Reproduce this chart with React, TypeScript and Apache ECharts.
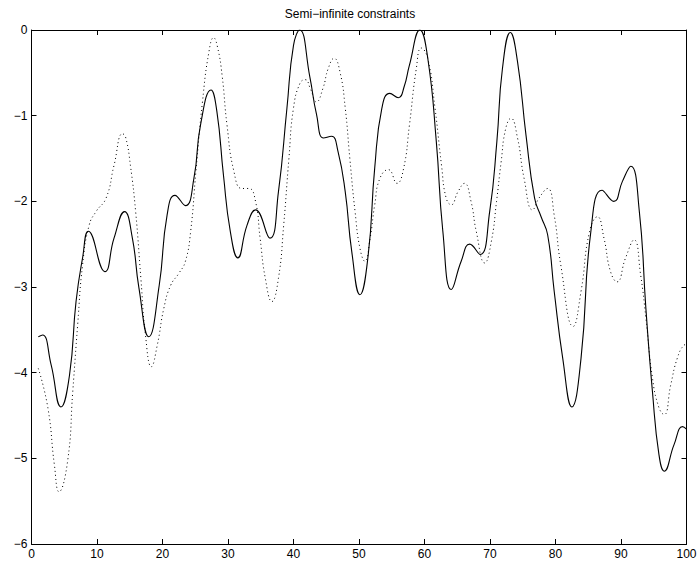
import React, { useEffect, useRef } from "react";
import * as echarts from "echarts";

const titleText = "Semi\u2212infinite constraints";
const xTicks = [0, 10, 20, 30, 40, 50, 60, 70, 80, 90, 100];
const yTicks = [0, -1, -2, -3, -4, -5, -6];

const solidX = [1.04, 1.7, 3.0, 4.5, 5.8, 6.8, 7.8, 8.7, 11.2, 12.6, 14.2, 15.4, 16.4, 17.9, 19.5, 20.7, 21.9, 23.5, 24.8, 25.8, 27.4, 28.3, 29.3, 30.35, 31.5, 32.9, 34.2, 36.4, 37.7, 39.0, 40.0, 40.95, 42.5, 43.5, 44.6, 45.8, 46.8, 47.9, 48.9, 50.15, 51.4, 52.4, 53.5, 54.7, 56.0, 56.9, 57.7, 59.3, 60.5, 61.8, 62.8, 64.1, 65.6, 66.9, 68.5, 69.95, 71.05, 71.9, 73.1, 74.2, 75.5, 76.8, 77.8, 78.8, 79.8, 81.1, 82.5, 83.9, 85.4, 87.1, 88.9, 90.2, 91.5, 92.8, 93.8, 94.8, 95.8, 96.6, 98.1, 99.4, 100];
const solidY = [-3.58, -3.56, -3.91, -4.40, -4.03, -3.17, -2.66, -2.35, -2.82, -2.43, -2.12, -2.43, -3.01, -3.58, -2.98, -2.16, -1.93, -2.05, -1.73, -1.11, -0.70, -0.95, -1.69, -2.35, -2.66, -2.28, -2.10, -2.43, -1.89, -0.91, -0.18, 0.0, -0.55, -0.98, -1.26, -1.24, -1.42, -1.89, -2.59, -3.09, -2.63, -1.61, -0.91, -0.74, -0.79, -0.66, -0.41, 0.0, -0.33, -1.30, -2.35, -3.03, -2.70, -2.50, -2.62, -2.12, -1.30, -0.45, -0.03, -0.37, -1.23, -1.96, -2.18, -2.39, -3.05, -3.83, -4.40, -3.83, -2.35, -1.87, -2.0, -1.77, -1.59, -2.12, -3.25, -4.22, -4.96, -5.15, -4.84, -4.63, -4.66];

const dotX = [1.04, 2.5, 3.5, 4.2, 5.5, 6.3, 7.05, 7.8, 8.8, 9.85, 11.4, 12.6, 13.9, 14.4, 15.1, 15.9, 16.7, 17.4, 18.3, 19.2, 20.2, 21.25, 22.5, 23.5, 24.3, 25.1, 26.1, 27.1, 27.8, 28.4, 29.1, 29.85, 30.9, 32.1, 33.2, 34.2, 34.9, 35.7, 36.7, 37.7, 38.5, 39.3, 40.0, 41.0, 41.8, 42.6, 43.5, 44.5, 45.3, 46.2, 47.1, 47.9, 48.6, 49.4, 50.15, 50.9, 51.7, 52.4, 53.2, 54.5, 55.8, 56.8, 57.7, 58.75, 59.5, 60.5, 61.6, 62.6, 63.3, 64.1, 65.1, 66.1, 67.1, 67.9, 69.2, 70.2, 71.0, 71.7, 72.4, 73.2, 74.2, 75.2, 76.5, 77.5, 78.8, 79.8, 80.8, 82.7, 83.9, 85.2, 86.4, 87.4, 88.4, 89.4, 90.7, 92.0, 93.0, 93.8, 94.8, 95.8, 96.6, 97.6, 98.6, 99.6, 100];
const dotY = [-3.95, -4.41, -5.08, -5.39, -5.04, -4.22, -3.44, -2.74, -2.28, -2.12, -1.96, -1.58, -1.21, -1.26, -1.58, -2.12, -2.90, -3.56, -3.93, -3.68, -3.25, -2.98, -2.84, -2.70, -2.35, -1.65, -0.84, -0.25, -0.09, -0.20, -0.53, -1.11, -1.65, -1.85, -1.85, -2.0, -2.43, -2.90, -3.17, -2.90, -2.28, -1.50, -0.91, -0.62, -0.58, -0.69, -0.84, -0.68, -0.45, -0.33, -0.49, -0.91, -1.50, -2.12, -2.55, -2.70, -2.43, -2.04, -1.73, -1.63, -1.79, -1.62, -1.11, -0.45, -0.21, -0.33, -0.91, -1.58, -1.96, -2.04, -1.89, -1.79, -2.0, -2.35, -2.72, -2.47, -2.0, -1.54, -1.15, -1.03, -1.26, -1.73, -2.10, -1.96, -1.85, -2.16, -2.74, -3.46, -3.05, -2.35, -2.18, -2.43, -2.82, -2.94, -2.66, -2.45, -2.86, -3.36, -4.06, -4.41, -4.49, -4.14, -3.83, -3.68, -3.67];

const FONT = "'Liberation Sans', Arial, Helvetica, sans-serif";

export default function App() {
  const ref = useRef<HTMLDivElement>(null);
  useEffect(() => {
    document.body.style.margin = "0";
    if (!ref.current) return;
    const chart = echarts.init(ref.current, null, { renderer: "svg" });
    const fmt = (v: number) => (v < 0 ? "\u2212" + Math.abs(v) : String(v));
    const axisLine = { show: true, onZero: false, lineStyle: { color: "#000", width: 1 } };
    const tick = { show: true, inside: true, length: 5, lineStyle: { color: "#000", width: 1 } };
    const label = { color: "#000", fontSize: 12, fontFamily: FONT };
    chart.setOption({
      animation: false,
      backgroundColor: "#fff",
      title: {
        text: titleText,
        left: "center",
        top: 3,
        textStyle: { color: "#000", fontSize: 12, fontWeight: "normal", fontFamily: FONT },
      },
      grid: { left: 31.5, right: 13.5, top: 30, bottom: 22, containLabel: false },
      xAxis: [
        {
          type: "value", min: xTicks[0], max: xTicks[xTicks.length - 1], interval: 10,
          position: "bottom", axisLine, axisTick: tick, splitLine: { show: false },
          axisLabel: { ...label, margin: 4 },
        },
        {
          type: "value", min: xTicks[0], max: xTicks[xTicks.length - 1], interval: 10,
          position: "top", axisLine, axisTick: tick, splitLine: { show: false },
          axisLabel: { show: false },
        },
      ],
      yAxis: [
        {
          type: "value", min: yTicks[yTicks.length - 1], max: yTicks[0], interval: 1,
          position: "left", axisLine, axisTick: tick, splitLine: { show: false },
          axisLabel: { ...label, margin: 4, formatter: fmt },
        },
        {
          type: "value", min: yTicks[yTicks.length - 1], max: yTicks[0], interval: 1,
          position: "right", axisLine, axisTick: tick, splitLine: { show: false },
          axisLabel: { show: false },
        },
      ],
      series: [
        {
          type: "line",
          data: dotX.map((x, i) => [x, dotY[i]]),
          smooth: 0.5,
          showSymbol: false,
          lineStyle: { color: "#000", width: 1, type: [1, 3] },
          clip: true,
        },
        {
          type: "line",
          data: solidX.map((x, i) => [x, solidY[i]]),
          smooth: 0.5,
          showSymbol: false,
          lineStyle: { color: "#000", width: 1.1 },
          clip: true,
        },
      ],
    });
    return () => chart.dispose();
  }, []);
  return <div ref={ref} style={{ width: 700, height: 566 }} />;
}
